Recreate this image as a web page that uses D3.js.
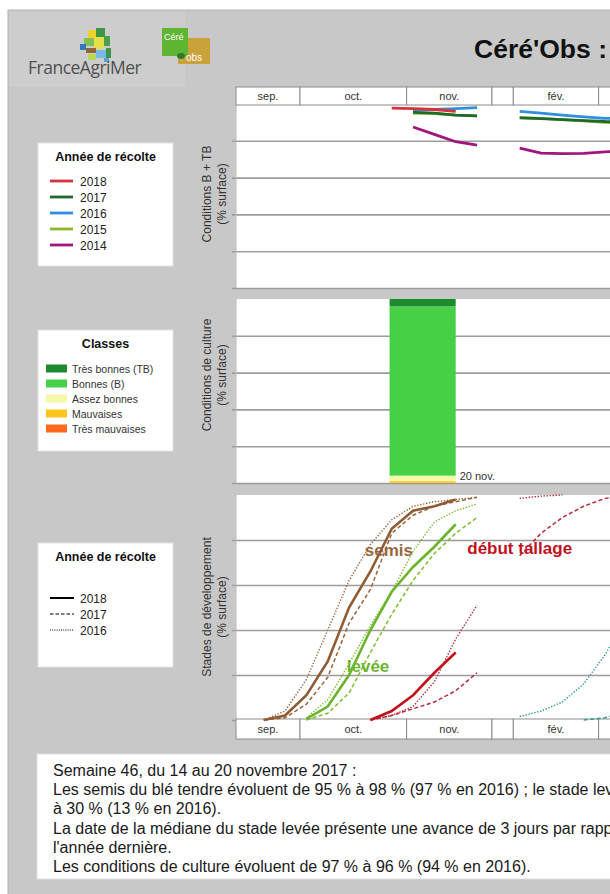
<!DOCTYPE html>
<html><head><meta charset="utf-8">
<script src="https://cdn.jsdelivr.net/npm/d3@7"></script>
<style>
html,body{margin:0;padding:0;background:#fff;overflow:hidden;}
svg{display:block;font-family:"Liberation Sans",Arial,sans-serif;}
</style></head><body>
<svg id="c" width="610" height="894"></svg>
<script>
// ---------------- DATA ----------------
const monthLabels = ["sep.", "oct.", "nov.", "", "fév.", ""];
const monthStarts = [0, 3, 8, 12, 13, 17];
const monthEnds   = [3, 8, 12, 13, 17, 21];
// week positions of the weekly observations (12.3 = compressed winter gap)
const weeks = [1.3, 2.3, 3.3, 4.3, 5.3, 6.3, 7.3, 8.3, 9.3, 10.3, 11.3, 12.3, 13.3, 14.3, 15.3, 16.3, 17.3, 18.3, 19.3];
const N = null;

// Conditions B + TB (% surface), by harvest year
const condYears = ["2018", "2017", "2016", "2015", "2014"];
const cond2018 = [N, N, N, N, N, N, 97.8, 97.5, 97, 96, N, N, N, N, N, N, N, N, N];
const cond2017 = [N, N, N, N, N, N, N, 95.5, 95, 94, 93.5, N, 92.5, 92, 91.5, 91, 90.5, 90.3, 90];
const cond2016 = [N, N, N, N, N, N, N, 96.5, 97, 97.5, 98, N, 96, 95, 94, 93, 92.2, 92, 91.8];
const cond2015 = [N, N, N, N, N, N, N, 95, 94.8, 94, 93.6, N, 92.6, 92.2, 91.5, 90.8, 90, 89.6, 89.3];
const cond2014 = [N, N, N, N, N, N, N, 87.5, 83.5, 79.5, 77.7, N, 76, 73.3, 73, 73.2, 74, 74.5, 75];

// Conditions de culture for the current week (% surface)
const classNames  = ["Très bonnes (TB)", "Bonnes (B)", "Assez bonnes", "Mauvaises", "Très mauvaises"];
const classValues = [4, 92, 3, 1, 0];
const barLabel = "20 nov.";
const barSpan = [7.2, 10.3];

// Stades de développement (% surface)
const stageYears = ["2018", "2017", "2016"];
const semis2018   = [0, 2, 11, 26, 50, 66, 85, 93, 95, 98, N, N, N, N, N, N, N, N, N];
const semis2017   = [0, 1, 7, 19, 43, 58, 83, 91, 95, 97, 99, N, N, N, N, N, N, N, N];
const semis2016   = [0, 4, 18, 40, 62, 78, 89, 95, 97, 98, 99, N, N, N, N, N, N, N, N];
const levee2018   = [N, N, 0.5, 6, 20, 40, 57, 68, 77, 87, N, N, N, N, N, N, N, N, N];
const levee2017   = [N, N, 0, 3, 12, 30, 47, 62, 74, 83, 90, N, N, N, N, N, N, N, N];
const levee2016   = [N, N, 1, 9, 25, 42, 57, 75, 88, 93, 96, N, N, N, N, N, N, N, N];
const tallage2018 = [N, N, N, N, N, 0, 4, 11, 21, 30, N, N, N, N, N, N, N, N, N];
const tallage2017 = [N, N, N, N, N, 0, 2, 5, 8, 13, 21, N, 73, 83, 90, 95, 98.5, 99.5, 100];
const tallage2016 = [N, N, N, N, N, 0, 2, 6, 17, 36, 51, N, 98.5, 99.5, 100, N, N, N, N];
const epi2017     = [N, N, N, N, N, N, N, N, N, N, N, N, N, N, N, 0, 1, 4, 10];
const epi2016     = [N, N, N, N, N, N, N, N, N, N, N, N, 1.5, 4, 8, 16, 29, 45, 62];

const stageLabels = ["semis", "levée", "début tallage"];
const stageLabelAt = [[7.17, 73], [6.19, 21.5], [13.3, 74]];

const textLines = [
  "Semaine 46, du 14 au 20 novembre 2017 :",
  "Les semis du blé tendre évoluent de 95 % à 98 % (97 % en 2016) ; le stade levée évolue de 77 % à 87 % (83 % en 2016) et le stade début tallage de 21 %",
  "à 30 % (13 % en 2016).",
  "La date de la médiane du stade levée présente une avance de 3 jours par rapport à",
  "l'année dernière.",
  "Les conditions de culture évoluent de 97 % à 96 % (94 % en 2016)."
];

// ---------------- DRAW ----------------
const svg = d3.select("#c");
svg.append("rect").attr("x", 0).attr("y", 0).attr("width", 610).attr("height", 894).attr("fill", "#fff");
svg.append("rect").attr("x", 8).attr("y", 10).attr("width", 620).attr("height", 900)
  .attr("fill", "#c8c8c8").attr("stroke", "#b4b4b4");
svg.append("rect").attr("x", 9).attr("y", 11).attr("width", 176).attr("height", 76).attr("fill", "#cdcdcd");

// Logos
const logo = svg.append("g");
[["#f2d21b",88,30,8,8],["#2d8f3a",96,28,9,9],["#79c043",84,38,10,8],["#1f6fb8",80,44,6,6],
 ["#e8e23a",94,37,10,12],["#3a9b3a",104,36,6,10],["#8a5a2a",86,48,10,5],["#6db8e8",96,50,10,8],
 ["#2d8f3a",106,48,5,10],["#b8d84a",88,54,8,6],["#4aa0d0",104,58,5,4]].forEach(d => {
  logo.append("rect").attr("x", d[1]).attr("y", d[2]).attr("width", d[3]).attr("height", d[4]).attr("fill", d[0]).attr("opacity", 0.9);
});
logo.append("text").attr("x", 28).attr("y", 74).attr("font-family", "'Open Sans',sans-serif")
  .attr("font-size", 17.5).attr("fill", "#505050").attr("letter-spacing", -0.5).text("FranceAgriMer");
logo.append("rect").attr("x", 178).attr("y", 38).attr("width", 32).attr("height", 26).attr("fill", "#c9a23a");
logo.append("rect").attr("x", 162).attr("y", 28).attr("width", 26).attr("height", 28).attr("fill", "#5db531");
logo.append("text").attr("x", 164).attr("y", 40).attr("font-size", 9).attr("fill", "#fff").text("Céré");
logo.append("ellipse").attr("cx", 181).attr("cy", 56).attr("rx", 4).attr("ry", 3).attr("fill", "#2d7a2a");
logo.append("text").attr("x", 186).attr("y", 61).attr("font-size", 10).attr("fill", "#fff").text("obs");

svg.append("text").attr("x", 474).attr("y", 58).attr("font-size", 26.5).attr("font-weight", "bold")
  .attr("fill", "#111").text("Céré'Obs :");

// scales
const x = d3.scaleLinear().domain([0, 21]).range([236, 236 + 21 * 21.33]);
const yTop = d3.scaleLinear().domain([0, 100]).range([288, 104]);
const yMid = d3.scaleLinear().domain([0, 100]).range([483, 299]);
const yBot = d3.scaleLinear().domain([0, 100]).range([720, 495]);
const xR = x(21);

function panel(y) {
  const g = svg.append("g");
  g.append("rect").attr("x", x(0)).attr("y", y(100)).attr("width", xR - x(0)).attr("height", y(0) - y(100))
    .attr("fill", "#fff");
  const ax = d3.axisLeft(y).tickValues([0, 20, 40, 60, 80]).tickSize(-(xR - x(0))).tickFormat("");
  const a = g.append("g").attr("transform", `translate(${x(0)},0)`).call(ax);
  a.select(".domain").remove();
  a.selectAll(".tick line").attr("stroke", "#9c9c9c").attr("stroke-width", 1.6).attr("x1", -4);
  g.append("line").attr("x1", x(0)).attr("x2", x(0)).attr("y1", y(100)).attr("y2", y(0))
    .attr("stroke", "#bdbdbd").attr("stroke-width", 1);
  return g;
}
function monthBand(y0, h) {
  const g = svg.append("g");
  monthLabels.forEach((m, i) => {
    g.append("rect").attr("x", x(monthStarts[i])).attr("y", y0).attr("width", x(monthEnds[i]) - x(monthStarts[i]))
      .attr("height", h).attr("fill", "#fff").attr("stroke", "#8c8c8c").attr("stroke-width", 1);
    if (m) g.append("text").attr("x", (x(monthStarts[i]) + x(monthEnds[i])) / 2).attr("y", y0 + h / 2 + 4)
      .attr("text-anchor", "middle").attr("font-size", 11).attr("fill", "#333").text(m);
  });
}
function yLabel(cy, l1, l2) {
  const g = svg.append("g").attr("font-size", 12).attr("fill", "#333").attr("text-anchor", "middle");
  g.append("text").attr("transform", `translate(211,${cy}) rotate(-90)`).text(l1);
  g.append("text").attr("transform", `translate(226,${cy}) rotate(-90)`).text(l2);
}

// ---- Top chart: Conditions B + TB
panel(yTop);
monthBand(87, 18);
yLabel(194, "Conditions B + TB", "(% surface)");
const condColors = {"2018": "#d8323c", "2017": "#1d6a2b", "2016": "#2f8fe0", "2015": "#8db82a", "2014": "#a0167c"};
const condSeries = {"2018": cond2018, "2017": cond2017, "2016": cond2016, "2015": cond2015, "2014": cond2014};
const lineTop = d3.line().defined(d => d[1] !== null).x(d => x(d[0])).y(d => yTop(d[1]));
["2014", "2015", "2016", "2017", "2018"].forEach(yr => {
  svg.append("path").datum(weeks.map((w, i) => [w, condSeries[yr][i]]))
    .attr("d", lineTop).attr("fill", "none").attr("stroke", condColors[yr]).attr("stroke-width", 2.8);
});

// ---- Middle chart: Conditions de culture
panel(yMid);
yLabel(375, "Conditions de culture", "(% surface)");
const classColors = ["#1e8a2e", "#45d045", "#f7f7a8", "#ffc61e", "#ff6a1e"];
const stackRow = {};
classNames.forEach((c, i) => stackRow[c] = classValues[i]);
const stack = d3.stack().keys(classNames.slice().reverse())([stackRow]);
stack.forEach(s => {
  const ci = classNames.indexOf(s.key);
  const d = s[0];
  if (d[1] - d[0] <= 0) return;
  svg.append("rect").attr("x", x(barSpan[0])).attr("width", x(barSpan[1]) - x(barSpan[0]))
    .attr("y", yMid(d[1])).attr("height", yMid(d[0]) - yMid(d[1])).attr("fill", classColors[ci]);
});
svg.append("text").attr("x", x(barSpan[1]) + 4).attr("y", yMid(0) - 3).attr("font-size", 11)
  .attr("fill", "#333").text(barLabel);

// ---- Bottom chart: Stades de développement
panel(yBot);
monthBand(719, 20);
yLabel(607, "Stades de développement", "(% surface)");
const stageColors = ["#98663e", "#6cb42d", "#c2111e"];
stageLabels.forEach((t, i) => {
  svg.append("text").attr("x", x(stageLabelAt[i][0])).attr("y", yBot(stageLabelAt[i][1]))
    .attr("text-anchor", "middle").attr("font-size", 17).attr("font-weight", "bold")
    .attr("fill", stageColors[i]).text(t);
});
const lineBot = d3.line().defined(d => d[1] !== null).x(d => x(d[0])).y(d => yBot(d[1]));
const styles = {
  "2018": {w: 2.6, dash: null},
  "2017": {w: 1.5, dash: "4,2.5"},
  "2016": {w: 1.4, dash: "1.4,1.6"}
};
const stageSeries = [
  ["2016", semis2016, "#98663e"], ["2017", semis2017, "#98663e"], ["2018", semis2018, "#8f5c34"],
  ["2016", levee2016, "#7cbc30"], ["2017", levee2017, "#7cbc30"], ["2018", levee2018, "#6cb42d"],
  ["2016", tallage2016, "#b8283a"], ["2017", tallage2017, "#b8283a"], ["2018", tallage2018, "#c2111e"],
  ["2016", epi2016, "#2f9a8f"], ["2017", epi2017, "#2f9a8f"]
];
stageSeries.forEach(([yr, vals, col]) => {
  svg.append("path").datum(weeks.map((w, i) => [w, vals[i]]))
    .attr("d", lineBot).attr("fill", "none").attr("stroke", col)
    .attr("stroke-width", styles[yr].w).attr("stroke-dasharray", styles[yr].dash);
});

// ---- Legends
function legendBox(y0, h, title) {
  const g = svg.append("g");
  g.append("rect").attr("x", 38).attr("y", y0).attr("width", 135).attr("height", h)
    .attr("fill", "#fff").attr("stroke", "#e2e2e2");
  g.append("text").attr("x", 105.5).attr("y", y0 + 18).attr("text-anchor", "middle")
    .attr("font-size", 12.5).attr("font-weight", "bold").attr("fill", "#111").text(title);
  return g;
}
const lg1 = legendBox(143, 123, "Année de récolte");
condYears.forEach((yr, i) => {
  const cy = 181 + i * 16;
  lg1.append("line").attr("x1", 50).attr("x2", 73).attr("y1", cy).attr("y2", cy)
    .attr("stroke", condColors[yr]).attr("stroke-width", 2.8);
  lg1.append("text").attr("x", 80).attr("y", cy + 4.5).attr("font-size", 12).attr("fill", "#222").text(yr);
});
const lg2 = legendBox(330, 121, "Classes");
classNames.forEach((c, i) => {
  const cy = 368.5 + i * 15;
  lg2.append("rect").attr("x", 46).attr("y", cy - 4).attr("width", 21).attr("height", 8).attr("fill", classColors[i]);
  lg2.append("text").attr("x", 72).attr("y", cy + 4).attr("font-size", 10.5).attr("fill", "#333").text(c);
});
const lg3 = legendBox(543, 124, "Année de récolte");
stageYears.forEach((yr, i) => {
  const cy = 598 + i * 16;
  lg3.append("line").attr("x1", 50).attr("x2", 74).attr("y1", cy).attr("y2", cy)
    .attr("stroke", "#000").attr("stroke-width", yr === "2018" ? 2 : 1.2)
    .attr("stroke-dasharray", yr === "2018" ? null : (yr === "2017" ? "3.5,2" : "1,1.2"));
  lg3.append("text").attr("x", 80).attr("y", cy + 4.5).attr("font-size", 12).attr("fill", "#222").text(yr);
});

// ---- Comment box
svg.append("rect").attr("x", 37).attr("y", 754).attr("width", 600).attr("height", 125)
  .attr("fill", "#fff").attr("stroke", "#e0e0e0");
textLines.forEach((t, i) => {
  svg.append("text").attr("x", 53).attr("y", 776 + i * 19.2).attr("font-size", 16)
    .attr("fill", "#1a1a1a").text(t);
});
</script>
</body></html>
